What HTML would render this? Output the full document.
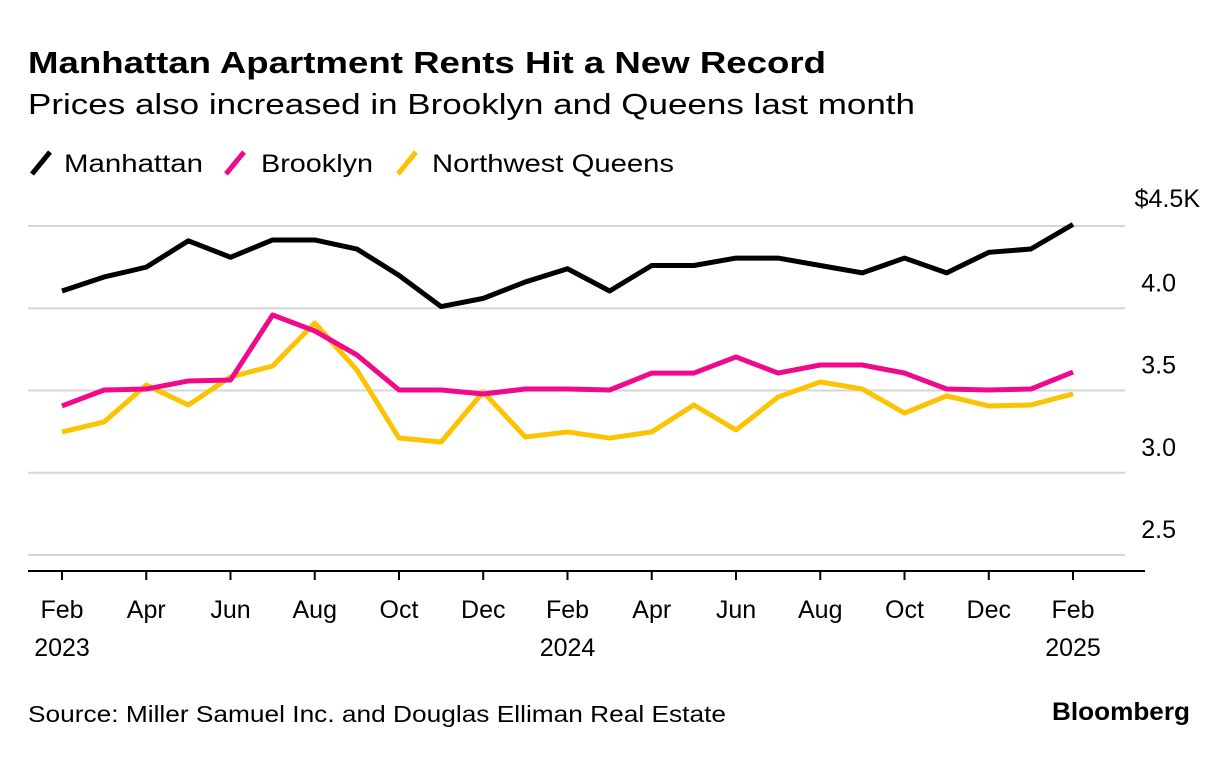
<!DOCTYPE html>
<html><head><meta charset="utf-8"><style>
body{margin:0;background:#fff;font-family:"Liberation Sans",sans-serif;}
svg text{font-family:"Liberation Sans",sans-serif;}
</style></head><body>
<svg id="chart" width="1230" height="754" xmlns="http://www.w3.org/2000/svg">
<text x="28" y="73" font-size="31" font-weight="bold" fill="#000" textLength="798" lengthAdjust="spacingAndGlyphs">Manhattan Apartment Rents Hit a New Record</text>
<text x="28" y="114" font-size="29" fill="#000" textLength="887" lengthAdjust="spacingAndGlyphs">Prices also increased in Brooklyn and Queens last month</text>
<g>
<line x1="32" y1="174" x2="50" y2="152" stroke="#000" stroke-width="5"/>
<text x="64" y="172" font-size="25" textLength="139" lengthAdjust="spacingAndGlyphs">Manhattan</text>
<line x1="226" y1="174" x2="244" y2="152" stroke="#f0098b" stroke-width="5"/>
<text x="261" y="172" font-size="25" textLength="112" lengthAdjust="spacingAndGlyphs">Brooklyn</text>
<line x1="398" y1="174" x2="416" y2="152" stroke="#fcc303" stroke-width="5"/>
<text x="432" y="172" font-size="25" textLength="242" lengthAdjust="spacingAndGlyphs">Northwest Queens</text>
</g>
<g id="grid"></g><g id="xaxis"></g><g id="series"></g>
<text x="28" y="722" font-size="23" textLength="698" lengthAdjust="spacingAndGlyphs">Source: Miller Samuel Inc. and Douglas Elliman Real Estate</text>
<text x="1052" y="720" font-size="25" font-weight="bold" textLength="138" lengthAdjust="spacingAndGlyphs">Bloomberg</text>
</svg>
<script>
const months=["Feb","Mar","Apr","May","Jun","Jul","Aug","Sep","Oct","Nov","Dec","Jan","Feb","Mar","Apr","May","Jun","Jul","Aug","Sep","Oct","Nov","Dec","Jan","Feb"];
const manhattan=[4.105,4.19,4.25,4.41,4.31,4.415,4.415,4.36,4.20,4.01,4.06,4.16,4.24,4.105,4.26,4.26,4.305,4.305,4.26,4.215,4.305,4.215,4.34,4.36,4.51];
const brooklyn=[3.406,3.503,3.509,3.558,3.564,3.959,3.862,3.716,3.503,3.503,3.479,3.509,3.509,3.503,3.606,3.606,3.704,3.606,3.655,3.655,3.606,3.509,3.503,3.509,3.612];
const queens=[3.248,3.309,3.533,3.412,3.582,3.649,3.910,3.625,3.211,3.187,3.491,3.217,3.248,3.211,3.248,3.412,3.260,3.460,3.552,3.509,3.363,3.467,3.406,3.412,3.479];
const yTicks=[2.5,3.0,3.5,4.0,4.5];
const yTickLabels=["2.5","3.0","3.5","4.0","$4.5K"];
const xLabelIdx=[0,2,4,6,8,10,12,14,16,18,20,22,24];
const yearLabels={0:"2023",12:"2024",24:"2025"};
const NS="http://www.w3.org/2000/svg";
const x=i=>62+i*(1073-62)/24;
const y=v=>226+(4.5-v)*164.5;
function mk(t,a,p){const e=document.createElementNS(NS,t);for(const k in a)e.setAttribute(k,a[k]);p.appendChild(e);return e;}
const grid=document.getElementById('grid');
yTicks.forEach((v,i)=>{
 const l=mk('line',{x1:28,x2:1125,y1:y(v),y2:y(v),stroke:'#d6d6d6','stroke-width':2},grid);
 
 
 const t=mk('text',{x:i==4?1200:1176,y:y(v)-17+(i==4?-2:0),'font-size':25,'text-anchor':'end'},grid);
 t.textContent=yTickLabels[i];
 
 
});
const xa=document.getElementById('xaxis');
const base=mk('line',{x1:28,x2:1145,y1:571,y2:571,stroke:'#000','stroke-width':2},xa);


xLabelIdx.forEach(i=>{
 const tk=mk('line',{x1:x(i),x2:x(i),y1:571,y2:580,stroke:'#000','stroke-width':2},xa);
 
 
 const t=mk('text',{x:x(i),y:618,'font-size':25,'text-anchor':'middle'},xa);
 t.textContent=months[i];
 
 
 if(yearLabels[i]){const yt=mk('text',{x:x(i),y:656,'font-size':25,'text-anchor':'middle'},xa);yt.textContent=yearLabels[i];
 
 }
});
const sg=document.getElementById('series');
[[queens,'#fcc303','queens-line'],[brooklyn,'#f0098b','brooklyn-line'],[manhattan,'#000','manhattan-line']].forEach(([d,c,n])=>{
 const p=mk('polyline',{points:d.map((v,i)=>x(i)+','+y(v)).join(' '),fill:'none',stroke:c,'stroke-width':5,'stroke-linejoin':'round'},sg);
 
 
});
</script>
</body></html>
